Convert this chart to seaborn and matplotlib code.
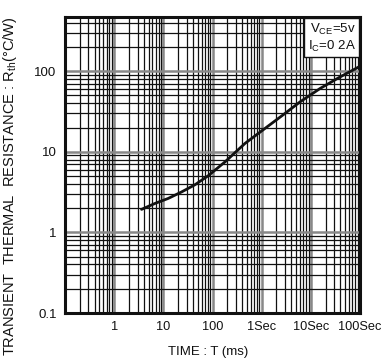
import numpy as np
import pandas as pd
import matplotlib
matplotlib.use("Agg")
import matplotlib.pyplot as plt
from matplotlib.ticker import FixedLocator, NullFormatter
import seaborn as sns

# Data
time_ms = [3.6, 6.8, 12.6, 23.6, 44, 82, 180, 458, 1170, 2980, 6000, 15300, 39200, 100000]
rth = [1.93, 2.29, 2.64, 3.18, 3.9, 5.05, 7.5, 12.7, 19.5, 29.9, 41.5, 60.8, 84.7, 115]
x_ticks = [1, 10, 100, 1000, 10000, 100000]
x_labels = ["1", "10", "100", "1Sec", "10Sec", "100Sec"]
y_ticks = [0.1, 1, 10, 100]
y_labels = ["0.1", "1", "10", "100"]

sns.set_style("ticks")
plt.rcParams["font.family"] = ["Liberation Sans", "DejaVu Sans"]
plt.rcParams["mathtext.fontset"] = "custom"
plt.rcParams["mathtext.rm"] = "Liberation Sans"
plt.rcParams["mathtext.it"] = "Liberation Sans"

fig = plt.figure(figsize=(3.81, 3.6), dpi=100)
ax = fig.add_axes([65 / 381, 1 - 313 / 360, 295 / 381, 296 / 360])

df = pd.DataFrame({"T": time_ms, "R": rth})
sns.lineplot(data=df, x="T", y="R", ax=ax, color="#111111", linewidth=2.0, zorder=5)

ax.set_xscale("log")
ax.set_yscale("log")
ax.set_xlim(0.1, 1e5)
ax.set_ylim(0.1, 470)

ax.xaxis.set_major_locator(FixedLocator(x_ticks))
ax.set_xticklabels(x_labels)
ax.yaxis.set_major_locator(FixedLocator(y_ticks))
ax.set_yticklabels(y_labels)

xminor = [m * 10.0 ** e for e in range(-1, 5) for m in range(2, 10)]
yminor = [m * 10.0 ** e for e in range(-1, 3) for m in range(2, 10) if m * 10.0 ** e < 470]
ax.xaxis.set_minor_locator(FixedLocator(xminor))
ax.yaxis.set_minor_locator(FixedLocator(yminor))
ax.xaxis.set_minor_formatter(NullFormatter())
ax.yaxis.set_minor_formatter(NullFormatter())

ax.grid(which="major", color="#888888", linewidth=1.8)
ax.grid(which="minor", color="#111111", linewidth=0.9)
ax.tick_params(axis="y", which="both", length=0, labelsize=9.5, colors="#111111", pad=6)
ax.tick_params(axis="x", which="both", length=0, labelsize=9.2, colors="#111111", pad=6)

for s in ax.spines.values():
    s.set_linewidth(2.2)
    s.set_color("#111111")
    s.set_zorder(6)

ax.set_xlabel("")
ax.set_ylabel("")

# Legend box
ax.text(0.985, 0.985, "V$_{\\rm CE}$=5v\nI$_{\\rm C}$=0 2A", transform=ax.transAxes,
        ha="right", va="top", fontsize=9.5, color="#111111", zorder=10, linespacing=1.2,
        bbox=dict(boxstyle="square,pad=0.25", facecolor="white", edgecolor="#111111", linewidth=1.0))

fig.text(208 / 381, 1 - 352 / 360, "TIME : T (ms)", ha="center", va="center",
         fontsize=9.5, color="#111111")
fig.text(10 / 381, 1 - 186 / 360,
         "TRANSIENT  THERMAL  RESISTANCE : R$_{\\rm th}$(°C/W)", rotation=90,
         ha="center", va="center", fontsize=10.5, color="#111111")

fig.savefig("out.png", dpi=100)
